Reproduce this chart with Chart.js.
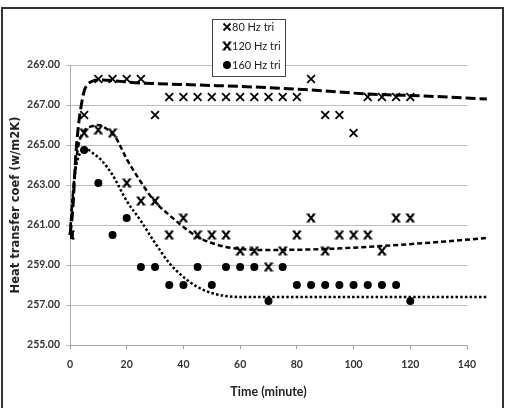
<!DOCTYPE html>
<html><head><meta charset="utf-8">
<script src="https://cdn.jsdelivr.net/npm/chart.js@4"></script>
<style>html,body{margin:0;padding:0;background:#fff}#wrap{width:508px;height:408px;position:relative}</style>
</head><body><div id="wrap"><canvas id="c"></canvas></div>
<script>
// ---- data ----
const times = [0,5,10,15,20,25,30,35,40,45,50,55,60,65,70,75,80,85,90,95,100,105,110,115,120];
const hz80  = [260.5,266.5,268.3,268.3,268.3,268.3,266.5,267.4,267.4,267.4,267.4,267.4,267.4,267.4,267.4,267.4,267.4,268.3,266.5,266.5,265.6,267.4,267.4,267.4,267.4];
const hz120 = [260.5,265.6,265.75,265.6,263.1,262.2,262.2,260.5,261.35,260.5,260.5,260.5,259.7,259.7,258.9,259.7,260.5,261.35,259.7,260.5,260.5,260.5,259.7,261.35,261.35];
const hz160 = [260.5,264.75,263.1,260.5,261.35,258.9,258.9,258.0,258.0,258.9,258.0,258.9,258.9,258.9,257.2,258.9,258.0,258.0,258.0,258.0,258.0,258.0,258.0,258.0,257.2];

const trend80T  = [0,1,2,3,4,5,6,8,10,25,45,65,85,105,125,147];
const trend80Y  = [260.5,261.8,264.4,266.0,267.0,267.7,268.0,268.2,268.25,268.1,268.0,267.9,267.75,267.55,267.45,267.3];
const trend120T = [0,1,2,3,5,8,10,13,16,20,25,30,35,40,45,50,55,60,70,90,110,130,147];
const trend120Y = [260.5,262.5,264.0,265.0,265.7,265.95,266.0,265.8,265.4,264.3,263.15,262.15,261.5,260.9,260.4,260.1,259.9,259.8,259.75,259.8,259.95,260.15,260.35];
const trend160T = [0,1,2,3,5,8,11,15,20,25,30,35,40,45,50,55,60,80,100,120,147];
const trend160Y = [260.5,262.5,263.8,264.4,264.85,264.6,264.25,263.5,262.2,261.2,260.1,259.1,258.4,257.9,257.6,257.45,257.4,257.4,257.4,257.4,257.4];

const labels = ['80 Hz tri','120 Hz tri','160 Hz tri'];
const xTicks = {min:0, max:140, step:20};
const yTicks = {min:255, max:269, step:2};

const pts = (xs, ys) => xs.map((x,i)=>({x:x, y:ys[i]}));

// bold serif-X marker for 120 Hz
function makeX120(){
  const c = document.createElement('canvas'); c.width = 10; c.height = 10;
  const g = c.getContext('2d');
  g.strokeStyle = '#000'; g.lineWidth = 2; g.lineCap='butt';
  g.beginPath(); g.moveTo(2,1.5); g.lineTo(8,8.5); g.moveTo(8,1.5); g.lineTo(2,8.5); g.stroke();
  g.lineWidth = 1.3;
  g.beginPath(); g.moveTo(0.5,1.2); g.lineTo(3.5,1.2); g.moveTo(6.5,1.2); g.lineTo(9.5,1.2);
  g.moveTo(0.5,8.8); g.lineTo(3.5,8.8); g.moveTo(6.5,8.8); g.lineTo(9.5,8.8); g.stroke();
  return c;
}
const x120 = makeX120();

const FONT = "Lato,'Liberation Sans',Arial,sans-serif";

const framePlugin = {
  id:'frame',
  beforeDraw(chart){
    const ctx = chart.ctx; ctx.save();
    ctx.fillStyle='#fff'; ctx.fillRect(0,0,chart.width,chart.height);
    ctx.strokeStyle='#333'; ctx.lineWidth=2;
    ctx.strokeRect(2,8,501,420);
    ctx.restore();
  },
  afterDraw(chart){
    const ctx = chart.ctx; ctx.save();
    const bx=212.5, by=19.5, bw=73, bh=57;
    ctx.fillStyle='#fff'; ctx.fillRect(bx,by,bw,bh);
    ctx.strokeStyle='#444'; ctx.lineWidth=1; ctx.strokeRect(bx,by,bw,bh);
    ctx.font = "11px "+FONT; ctx.textBaseline='middle'; ctx.textAlign='left';
    const rows=[27,46,65];
    labels.forEach((lab,i)=>{
      const y=rows[i], mx=227;
      ctx.strokeStyle='#000'; ctx.fillStyle='#000';
      if(i===0){ ctx.lineWidth=1.8; ctx.beginPath(); ctx.moveTo(mx-3.5,y-3.5); ctx.lineTo(mx+3.5,y+3.5); ctx.moveTo(mx+3.5,y-3.5); ctx.lineTo(mx-3.5,y+3.5); ctx.stroke(); }
      else if(i===1){ ctx.drawImage(x120, mx-5, y-5); }
      else { ctx.beginPath(); ctx.arc(mx,y,4,0,Math.PI*2); ctx.fill(); }
      ctx.fillStyle='#222';
      ctx.fillText(lab, 232, y+0.5);
    });
    ctx.restore();
  }
};

new Chart(document.getElementById('c'), {
  type:'scatter',
  data:{ datasets:[
    {label:'trend80', data:pts(trend80T,trend80Y), showLine:true, pointRadius:0, borderColor:'#000', borderWidth:3, borderDash:[10,4], cubicInterpolationMode:'monotone', clip:false},
    {label:'trend120', data:pts(trend120T,trend120Y), showLine:true, pointRadius:0, borderColor:'#000', borderWidth:2.5, borderDash:[5,3], cubicInterpolationMode:'monotone', clip:false},
    {label:'trend160', data:pts(trend160T,trend160Y), showLine:true, pointRadius:0, borderColor:'#000', borderWidth:2.5, borderDash:[2.5,2.2], cubicInterpolationMode:'monotone', clip:false},
    {label:labels[0], data:pts(times,hz80), pointStyle:'crossRot', pointRadius:5.5, borderColor:'#000', borderWidth:1.8, backgroundColor:'#000'},
    {label:labels[1], data:pts(times,hz120), pointStyle:x120, pointRadius:5, borderColor:'#000', backgroundColor:'#000'},
    {label:labels[2], data:pts(times,hz160), pointStyle:'circle', pointRadius:4, borderColor:'#000', borderWidth:0, backgroundColor:'#000'}
  ]},
  options:{
    responsive:true, maintainAspectRatio:false, animation:false, devicePixelRatio:1,
    layout:{padding:{top:65,right:41,left:0,bottom:0}},
    plugins:{legend:{display:false}, tooltip:{enabled:false}},
    scales:{
      x:{ type:'linear', min:xTicks.min, max:xTicks.max,
          ticks:{stepSize:xTicks.step, padding:9, color:'#333', font:{family:FONT,size:10.5,weight:'bold'}},
          grid:{drawOnChartArea:false, drawTicks:true, tickLength:4, color:'#999'},
          border:{display:true, color:'#aaa', width:1},
          title:{display:true, text:'Time (minute)', color:'#222', font:{family:FONT,size:12.5,weight:'bold'}, padding:{top:0,bottom:9}},
          afterFit(s){ s.height = 63; }
      },
      y:{ min:yTicks.min, max:yTicks.max,
          ticks:{stepSize:yTicks.step, padding:6, color:'#333', font:{family:FONT,size:10.5,weight:'bold'}, callback:v=>Number(v).toFixed(2)},
          grid:{drawOnChartArea:true, drawTicks:true, tickLength:4, color:'#bbb'},
          border:{display:true, color:'#aaa', width:1},
          title:{display:true, text:'Heat transfer coef (w/m2K)', color:'#222', font:{family:"'DejaVu Sans',sans-serif",size:11.5,weight:'bold'}, padding:{top:9,bottom:0}},
          afterFit(s){ s.width = 70; }
      }
    }
  },
  plugins:[framePlugin]
});
</script></body></html>
